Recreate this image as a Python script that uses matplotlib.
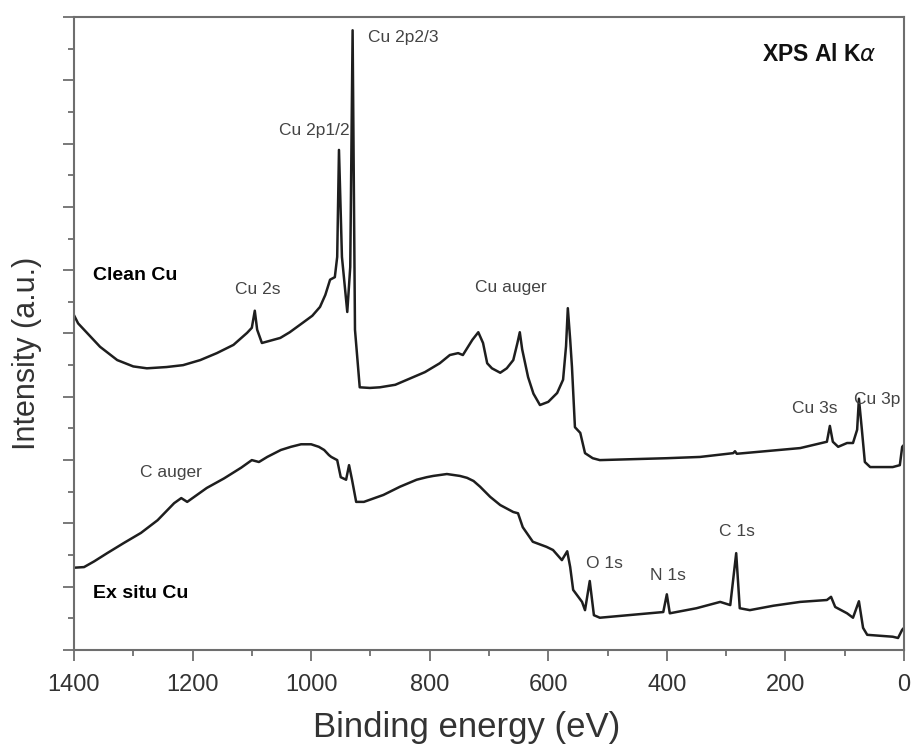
from __future__ import annotations

import matplotlib

matplotlib.use("Agg")
import matplotlib.pyplot as plt
from matplotlib.ticker import MultipleLocator, NullFormatter

# Clean Cu survey spectrum (binding energy in eV, intensity in a.u.)
CLEAN_BE = [
    1400, 1393, 1378, 1356, 1327, 1300, 1277, 1244, 1216, 1187, 1159, 1131,
    1108, 1100, 1095, 1091, 1083, 1052, 1036, 1014, 998, 985, 976, 968, 960,
    956, 953, 948, 939, 934, 930, 926, 918, 901, 884, 858, 828, 808, 783,
    766, 752, 744, 728, 718, 710, 703, 695, 681, 670, 659, 652, 648, 644,
    634, 625, 614, 600, 585, 575, 570, 567, 563, 560, 555, 546, 538, 525,
    513, 400, 344, 288, 285, 282, 175, 130, 125, 120, 111, 96, 86, 79, 76,
    71, 66, 57, 19, 7, 3, 0,
]
CLEAN_I = [
    5.29, 5.16, 5.01, 4.79, 4.58, 4.48, 4.45, 4.47, 4.50, 4.58, 4.69, 4.82,
    5.01, 5.09, 5.36, 5.06, 4.85, 4.93, 5.02, 5.17, 5.28, 5.42, 5.61, 5.85,
    5.89, 6.21, 7.90, 6.21, 5.34, 6.05, 9.79, 5.06, 4.15, 4.14, 4.15, 4.19,
    4.31, 4.39, 4.53, 4.66, 4.69, 4.66, 4.90, 5.02, 4.85, 4.53, 4.45, 4.38,
    4.45, 4.58, 4.85, 5.02, 4.75, 4.31, 4.05, 3.87, 3.92, 4.06, 4.27, 4.80,
    5.40, 4.90, 4.47, 3.52, 3.43, 3.11, 3.03, 3.00, 3.03, 3.05, 3.11, 3.14,
    3.10, 3.19, 3.29, 3.54, 3.29, 3.21, 3.27, 3.27, 3.48, 3.97, 3.48, 2.97,
    2.89, 2.89, 2.92, 3.21, 3.24,
]

# Ex situ Cu survey spectrum
EXSITU_BE = [
    1400, 1383, 1366, 1344, 1316, 1287, 1259, 1231, 1219, 1209, 1176, 1147,
    1118, 1100, 1088, 1074, 1051, 1034, 1017, 1000, 987, 978, 970, 966, 956,
    950, 941, 936, 931, 924, 911, 878, 850, 822, 805, 794, 771, 749, 737,
    726, 715, 698, 681, 659, 651, 643, 626, 603, 592, 577, 568, 563, 558,
    543, 538, 530, 523, 513, 406, 400, 395, 350, 310, 293, 283, 277, 260,
    220, 175, 130, 123, 116, 96, 86, 76, 69, 62, 19, 10, 3, 0,
]
EXSITU_I = [
    1.30, 1.31, 1.40, 1.53, 1.69, 1.85, 2.05, 2.32, 2.40, 2.34, 2.56, 2.71,
    2.88, 3.00, 2.97, 3.05, 3.16, 3.21, 3.25, 3.25, 3.21, 3.16, 3.08, 3.05,
    3.00, 2.73, 2.69, 2.92, 2.69, 2.34, 2.34, 2.45, 2.58, 2.69, 2.73, 2.75,
    2.78, 2.75, 2.72, 2.67, 2.58, 2.42, 2.29, 2.18, 2.16, 1.94, 1.71, 1.63,
    1.58, 1.42, 1.56, 1.31, 0.95, 0.76, 0.63, 1.09, 0.55, 0.51, 0.60, 0.88,
    0.58, 0.66, 0.76, 0.71, 1.53, 0.66, 0.63, 0.70, 0.76, 0.79, 0.84, 0.68,
    0.58, 0.51, 0.77, 0.35, 0.24, 0.21, 0.19, 0.32, 0.35,
]

# Peak labels: (text, binding energy, intensity)
PEAK_LABELS = [
    ("Cu 2p2/3", 904, 9.67),
    ("Cu 2p1/2", 995, 8.21),
    ("Cu 2s", 1090, 5.69),
    ("Cu auger", 663, 5.73),
    ("Cu 3s", 150, 3.82),
    ("Cu 3p", 46, 3.95),
    ("C auger", 1236, 2.80),
    ("O 1s", 506, 1.37),
    ("N 1s", 398, 1.18),
    ("C 1s", 282, 1.88),
]
SAMPLE_LABELS = [("Clean Cu", 1368, 5.92), ("Ex situ Cu", 1368, 0.90)]

LINE_COLOR = "#1e1e1e"
LABEL_COLOR = "#444444"
SPINE_COLOR = "#6e6e6e"


def plot_survey(save_path: str) -> None:
    plt.rcParams["font.family"] = ["Liberation Sans", "DejaVu Sans"]
    fig = plt.figure(figsize=(9.12, 7.45), dpi=100)
    ax = fig.add_axes([0.0811, 0.1275, 0.9101, 0.8497])

    ax.plot(CLEAN_BE, CLEAN_I, color=LINE_COLOR, lw=1.8)
    ax.plot(EXSITU_BE, EXSITU_I, color=LINE_COLOR, lw=1.8)

    for text, x, y in PEAK_LABELS:
        ha = "left" if text == "Cu 2p2/3" else "center"
        ax.text(x, y, text, ha=ha, va="center", fontsize=12.5, color=LABEL_COLOR)
    for text, x, y in SAMPLE_LABELS:
        ax.text(x, y, text, ha="left", va="center", fontsize=14,
                fontweight="bold", color="black")
    ax.text(46, 9.40, "XPS Al K$\\alpha$", ha="right", va="center",
            fontsize=16.5, fontweight="bold", color="#111111")

    ax.set_xlim(1400, 0)
    ax.set_ylim(0, 10)
    ax.xaxis.set_major_locator(MultipleLocator(200))
    ax.xaxis.set_minor_locator(MultipleLocator(100))
    ax.yaxis.set_major_locator(MultipleLocator(1))
    ax.yaxis.set_minor_locator(MultipleLocator(0.5))
    ax.yaxis.set_major_formatter(NullFormatter())

    ax.tick_params(axis="both", which="major", direction="out", length=8,
                   width=1.3, color=SPINE_COLOR, labelsize=17,
                   labelcolor="#333333", pad=9)
    ax.tick_params(axis="both", which="minor", direction="out", length=4.5,
                   width=1.3, color=SPINE_COLOR)
    for spine in ax.spines.values():
        spine.set_color(SPINE_COLOR)
        spine.set_linewidth(1.5)

    ax.set_xlabel("Binding energy (eV)", fontsize=25, color="#333333")
    ax.xaxis.set_label_coords(0.473, -0.096)
    ax.set_ylabel("Intensity (a.u.)", fontsize=22, color="#333333")
    ax.yaxis.set_label_coords(-0.039, 0.469)

    fig.savefig(save_path, dpi=100)
    plt.close(fig)


def main() -> None:
    plot_survey("out.png")


if __name__ == "__main__":
    main()
